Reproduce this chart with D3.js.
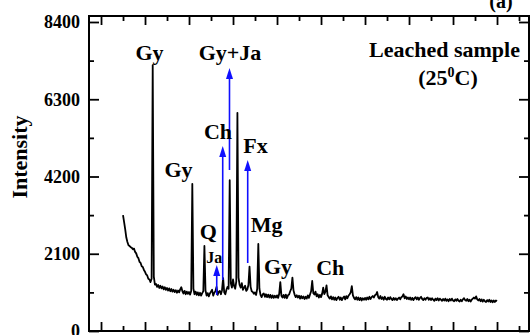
<!DOCTYPE html>
<html><head><meta charset="utf-8">
<script src="https://cdn.jsdelivr.net/npm/d3@7/dist/d3.min.js"></script>
<style>body{margin:0;background:#fff}svg{display:block}</style>
</head><body>
<script>
// ---- data (2θ in degrees, intensity in counts) ----
const twoTheta = [
 5,5.25,5.5,5.75,6,6.25,6.5,6.75,7,7.25,7.5,7.75,8,8.25,8.5,8.75,9,9.25,9.5,9.75,
 10,10.25,10.5,10.75,11,11.25,11.5,11.75,12,12.25,12.5,12.75,13,13.25,13.5,13.75,14,14.25,14.5,14.75,
 15,15.25,15.5,15.75,16,16.25,16.5,16.75,17,17.25,17.5,17.75,18,18.25,18.5,18.75,19,19.25,19.5,19.75,
 20,20.25,20.5,20.75,21,21.25,21.5,21.75,22,22.25,22.5,22.75,23,23.25,23.5,23.75,24,24.25,24.5,24.75,
 25,25.25,25.5,25.75,26,26.25,26.5,26.75,27,27.25,27.5,27.75,28,28.25,28.5,28.75,29,29.25,29.5,29.75,
 30,30.25,30.5,30.75,31,31.25,31.5,31.75,32,32.25,32.5,32.75,33,33.25,33.5,33.75,34,34.25,34.5,34.75,
 35,35.25,35.5,35.75,36,36.25,36.5,36.75,37,37.25,37.5,37.75,38,38.25,38.5,38.75,39,39.25,39.5,39.75,
 40,40.25,40.5,40.75,41,41.25,41.5,41.75,42,42.25,42.5,42.75,43,43.25,43.5,43.75,44,44.25,44.5,44.75,
 45,45.25,45.5,45.75,46,46.25,46.5,46.75,47,47.25,47.5,47.75,48,48.25,48.5,48.75,49,49.25,49.5,49.75,
 50,50.25,50.5,50.75,51,51.25,51.5,51.75,52,52.25,52.5,52.75,53,53.25,53.5,53.75,54,54.25,54.5,54.75,
 55,55.25,55.5,55.75,56,56.25,56.5,56.75,57,57.25,57.5,57.75,58,58.25,58.5,58.75,59,59.25,59.5,59.75,
 60,60.25,60.5,60.75,61,61.25,61.5,61.75,62,62.25,62.5,62.75,63,63.25,63.5,63.75,64,64.25,64.5,64.75,
 65,65.25,65.5,65.75,66,66.25,66.5,66.75,67,67.25,67.5,67.75,68,68.25,68.5,68.75,69,69.25,69.5,69.75,
 70,70.25,70.5,70.75,71,71.25,71.5,71.75,72,72.25,72.5,72.75,73,73.25,73.5,73.75,74,74.25,74.5,74.75,
 75,75.25,75.5,75.75,76,76.25,76.5,76.75,77,77.25,77.5,77.75,78,78.25,78.5,78.75,79,79.25,79.5,79.75,
 80,80.25,80.5,80.75,81,81.25,81.5,81.75,82,82.25,82.5,82.75,83,83.25,83.5,83.75,84,84.25,84.5,84.75,
 85,85.25,85.5,85.75,86,86.25,86.5,86.75,87,87.25,87.5,87.75,88,88.25,88.5,88.75,89,89.25,89.5,89.75,
 90
];
const intensity = [
 3150,2960,2760,2540,2420,2330,2310,2280,2260,2220,2240,2150,2110,2020,1980,1880,1850,1760,1740,1660,
 1610,1540,1510,1420,1400,1330,1420,7230,1480,1260,1280,1200,1250,1170,1230,1160,1210,1130,1190,1120,
 1170,1100,1160,1080,1140,1070,1120,1060,1110,1040,1100,1050,1130,1190,1080,1020,1090,1000,1070,1010,
 1060,990,1090,4000,1150,1000,1070,980,1050,970,1040,960,1030,1080,2310,1100,960,1030,940,1020,
 1070,1120,960,1040,1080,1200,980,1060,1090,1000,1110,1440,1050,1000,1120,1200,1150,4100,1300,1180,
 1400,1220,1150,1350,5930,1450,1250,1180,1300,1120,1180,1230,1090,1130,1250,1750,1200,1080,1060,1010,
 1050,980,1150,2365,1150,980,920,1000,1020,930,1000,920,990,910,980,900,970,900,960,910,
 970,900,1010,1330,960,910,980,900,990,890,970,990,1080,1150,1450,1100,990,920,970,910,
 960,880,950,890,940,870,930,880,970,900,990,1080,1360,1030,990,1070,940,1000,910,980,
 920,1010,1180,1000,1070,1240,970,920,880,940,860,920,850,910,840,900,930,850,910,840,
 900,940,860,950,890,960,1000,1050,1220,970,900,860,920,850,910,840,900,830,890,850,
 900,850,910,860,930,870,920,950,910,970,990,1060,920,880,950,870,920,850,930,870,
 850,910,860,920,870,840,900,850,890,840,880,910,860,920,940,1000,890,940,870,910,
 860,910,850,900,840,890,920,860,910,850,900,930,870,840,890,850,900,910,850,890,
 840,890,850,820,880,840,890,830,880,850,820,870,830,880,820,860,810,870,830,880,
 830,810,860,820,870,820,800,850,810,860,890,840,820,870,810,850,800,850,880,910,
 880,940,860,830,870,810,860,800,850,810,790,840,800,850,790,830,780,830,790,830,
 810
];
const yTickValues = [0, 2100, 4200, 6300, 8400];
const yMinorValues = [1050, 3150, 5250, 7350];
const xTickValues = [0, 10, 20, 30, 40, 50, 60, 70, 80, 90];
const xMinorValues = [5, 15, 25, 35, 45, 55, 65, 75, 85, 95];

const labelText = ["Gy", "Gy+Ja", "Ch", "Fx", "Gy", "Q", "Ja", "Mg", "Gy", "Ch"];
const labelTheta = [11.02, 29.32, 26.59, 35.11, 17.61, 24.39, 25.73, 37.66, 40.23, 52.11];
const labelIntensity = [7367, 7367, 5220, 4839, 4186, 2501, 1857, 2699, 1541, 1522];

const arrowTheta = [26.3, 27.66, 29.2, 33.34];
const arrowFrom = [978, 1386, 4376, 1848];
const arrowTo = [1794, 5028, 7148, 4648];

// ---- drawing ----
const W = 530, H = 335;
const svg = d3.select("body").append("svg").attr("width", W).attr("height", H);
const font = "'Liberation Serif','Times New Roman',Times,serif";

const x = d3.scaleLinear().domain([-2.73, 97.27]).range([89, 529]);
const y = d3.scaleLinear().domain([0, 8563]).range([331, 16]);

function styleAxis(g) {
  g.select(".domain").remove();
  g.selectAll(".tick line").attr("stroke", "#000").attr("stroke-width", 1.8);
}

// left axis
svg.append("g").attr("transform", "translate(89,0)")
  .call(d3.axisLeft(y).tickValues(yTickValues).tickSizeInner(-10).tickSizeOuter(0).tickPadding(9).tickFormat(d3.format("d")))
  .call(styleAxis)
  .call(g => g.selectAll("text").attr("font-family", font).attr("font-weight", "bold").attr("font-size", 18).attr("fill", "#000"));
svg.append("g").attr("transform", "translate(89,0)")
  .call(d3.axisLeft(y).tickValues(yMinorValues).tickSizeInner(-5).tickSizeOuter(0).tickFormat(""))
  .call(styleAxis);
// right axis
svg.append("g").attr("transform", "translate(529,0)")
  .call(d3.axisRight(y).tickValues(yTickValues).tickSizeInner(-10).tickSizeOuter(0).tickFormat(""))
  .call(styleAxis);
svg.append("g").attr("transform", "translate(529,0)")
  .call(d3.axisRight(y).tickValues(yMinorValues).tickSizeInner(-5).tickSizeOuter(0).tickFormat(""))
  .call(styleAxis);
// bottom axis
svg.append("g").attr("transform", "translate(0,331)")
  .call(d3.axisBottom(x).tickValues(xTickValues).tickSizeInner(-9).tickSizeOuter(0).tickFormat(""))
  .call(styleAxis);
svg.append("g").attr("transform", "translate(0,331)")
  .call(d3.axisBottom(x).tickValues(xMinorValues).tickSizeInner(-5).tickSizeOuter(0).tickFormat(""))
  .call(styleAxis);
// top axis
svg.append("g").attr("transform", "translate(0,16)")
  .call(d3.axisTop(x).tickValues(xTickValues).tickSizeInner(-9).tickSizeOuter(0).tickFormat(""))
  .call(styleAxis);
svg.append("g").attr("transform", "translate(0,16)")
  .call(d3.axisTop(x).tickValues(xMinorValues).tickSizeInner(-5).tickSizeOuter(0).tickFormat(""))
  .call(styleAxis);

// frame
svg.append("rect").attr("x", 89).attr("y", 16).attr("width", 440).attr("height", 315)
  .attr("fill", "none").attr("stroke", "#000").attr("stroke-width", 2);

// pattern line
const pts = twoTheta.map((t, i) => [t, intensity[i]]);
svg.append("path").datum(pts)
  .attr("fill", "none").attr("stroke", "#000").attr("stroke-width", 1.8).attr("stroke-linejoin", "round")
  .attr("d", d3.line().x(d => x(d[0])).y(d => y(d[1])));

// arrows
const blue = "#1010ff";
arrowTheta.forEach((t, i) => {
  const px = x(t), y0 = y(arrowFrom[i]), y1 = y(arrowTo[i]);
  svg.append("line").attr("x1", px).attr("x2", px).attr("y1", y0).attr("y2", y1 + 8)
    .attr("stroke", blue).attr("stroke-width", 1.6);
  svg.append("path").attr("d", `M${px},${y1} L${px - 3.5},${y1 + 11} L${px + 3.5},${y1 + 11} Z`).attr("fill", blue);
});

// peak labels
labelText.forEach((s, i) => {
  svg.append("text").attr("x", x(labelTheta[i])).attr("y", y(labelIntensity[i]))
    .attr("text-anchor", "middle").attr("font-family", font).attr("font-weight", "bold")
    .attr("font-size", s === "Ja" ? 16 : 22).attr("fill", "#000").text(s);
});

// sample title
svg.append("text").attr("x", x(78.07)).attr("y", y(7440)).attr("text-anchor", "middle")
  .attr("font-family", font).attr("font-weight", "bold").attr("font-size", 22).text("Leached sample");
const t2 = svg.append("text").attr("x", x(78.86)).attr("y", y(6687)).attr("text-anchor", "middle")
  .attr("font-family", font).attr("font-weight", "bold").attr("font-size", 22);
t2.append("tspan").text("(25");
t2.append("tspan").attr("font-size", 14).attr("dy", -8).text("0");
t2.append("tspan").attr("dy", 8).text("C)");

// panel label (partly cut at top, as in the original figure)
svg.append("text").attr("x", 501).attr("y", 8).attr("text-anchor", "middle")
  .attr("font-family", font).attr("font-weight", "bold").attr("font-size", 20).text("(a)");

// y axis title
svg.append("text").attr("transform", "translate(27,157) rotate(-90)").attr("text-anchor", "middle")
  .attr("font-family", font).attr("font-weight", "bold").attr("font-size", 22).text("Intensity");
</script>
</body></html>
